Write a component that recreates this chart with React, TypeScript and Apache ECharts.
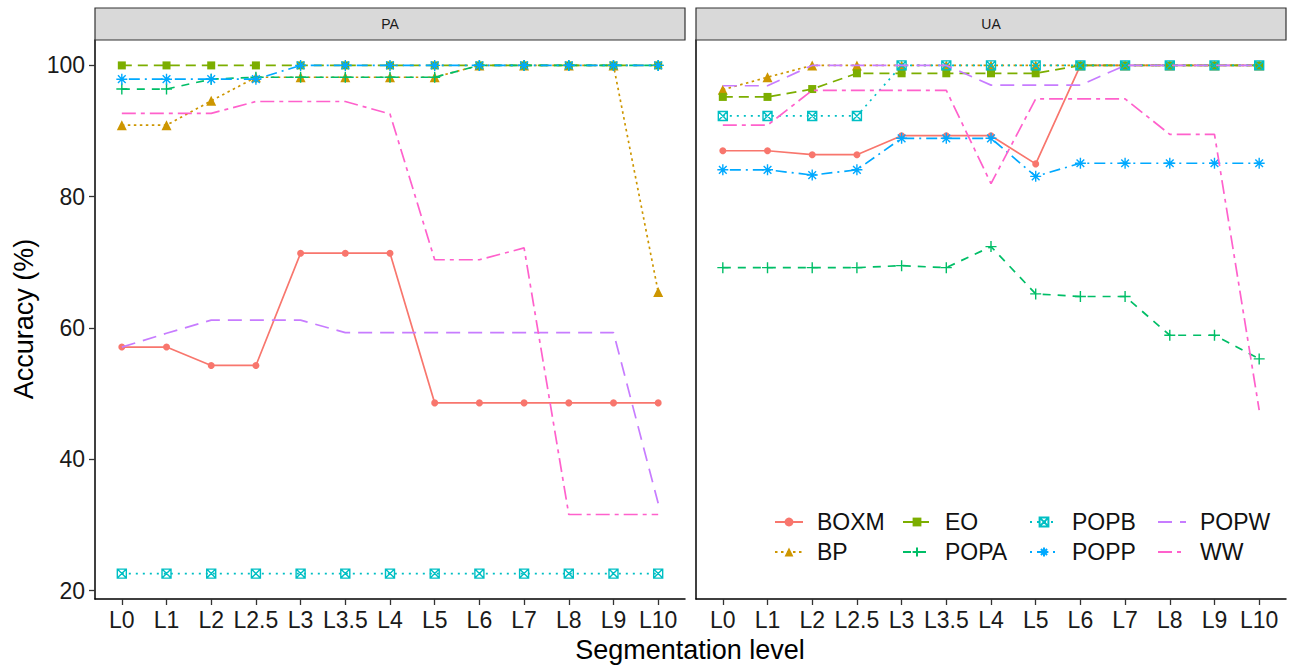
import React, { useEffect, useRef } from "react";
import * as echarts from "echarts";

const categories = ["L0", "L1", "L2", "L2.5", "L3", "L3.5", "L4", "L5", "L6", "L7", "L8", "L9", "L10"];
const panelNames = ["PA", "UA"];
const seriesNames = ["BOXM", "BP", "EO", "POPA", "POPB", "POPP", "POPW", "WW"];
const yTicks = [20, 40, 60, 80, 100];

// PA panel
const paBOXM = [57.1, 57.1, 54.3, 54.3, 71.4, 71.4, 71.4, 48.6, 48.6, 48.6, 48.6, 48.6, 48.6];
const paBP = [90.9, 90.9, 94.6, 98.2, 98.2, 98.2, 98.2, 98.2, 100, 100, 100, 100, 65.5];
const paEO = [100, 100, 100, 100, 100, 100, 100, 100, 100, 100, 100, 100, 100];
const paPOPA = [96.4, 96.4, 97.9, 98.2, 98.2, 98.2, 98.2, 98.2, 100, 100, 100, 100, 100];
const paPOPB = [22.6, 22.6, 22.6, 22.6, 22.6, 22.6, 22.6, 22.6, 22.6, 22.6, 22.6, 22.6, 22.6];
const paPOPP = [97.9, 97.9, 97.9, 97.9, 100, 100, 100, 100, 100, 100, 100, 100, 100];
const paPOPW = [57.1, 59.2, 61.2, 61.2, 61.2, 59.3, 59.3, 59.3, 59.3, 59.3, 59.3, 59.3, 33.3];
const paWW = [92.7, 92.7, 92.7, 94.5, 94.5, 94.5, 92.6, 70.4, 70.4, 72.2, 31.6, 31.6, 31.6];

// UA panel
const uaBOXM = [87.0, 87.0, 86.4, 86.4, 89.3, 89.3, 89.3, 85.0, 100, 100, 100, 100, 100];
const uaBP = [96.3, 98.2, 100, 100, 100, 100, 100, 100, 100, 100, 100, 100, 100];
const uaEO = [95.2, 95.2, 96.4, 98.8, 98.8, 98.8, 98.8, 98.8, 100, 100, 100, 100, 100];
const uaPOPA = [69.2, 69.2, 69.2, 69.2, 69.5, 69.2, 72.4, 65.2, 64.8, 64.8, 58.9, 58.9, 55.3];
const uaPOPB = [92.3, 92.3, 92.3, 92.3, 100, 100, 100, 100, 100, 100, 100, 100, 100];
const uaPOPP = [84.1, 84.1, 83.3, 84.1, 88.9, 88.9, 88.9, 83.1, 85.1, 85.1, 85.1, 85.1, 85.1];
const uaPOPW = [96.9, 96.9, 100, 100, 100, 100, 97.0, 97.0, 97.0, 100, 100, 100, 100];
const uaWW = [90.9, 90.9, 96.2, 96.2, 96.2, 96.2, 82.0, 94.9, 94.9, 94.9, 89.5, 89.5, 47.5];

const panelData = [
  [paBOXM, paBP, paEO, paPOPA, paPOPB, paPOPP, paPOPW, paWW],
  [uaBOXM, uaBP, uaEO, uaPOPA, uaPOPB, uaPOPP, uaPOPW, uaWW],
];

const colors = ["#F8766D", "#CD9600", "#7CAE00", "#00BE67", "#00BFC4", "#00A9FF", "#C77CFF", "#FF61CC"];
const dashes: any[] = ["solid", [2.5, 3.5], [10, 6], [8, 7], [2, 5], [2, 5, 11, 5], [14, 8], [14, 5, 4, 5]];
const symbols = [
  "circle",
  "triangle",
  "rect",
  "path://M5,0L5,10M0,5L10,5",
  "path://M0,0L10,0L10,10L0,10ZM0,0L10,10M10,0L0,10",
  "path://M5,0L5,10M0,5L10,5M1.5,1.5L8.5,8.5M8.5,1.5L1.5,8.5",
  "none",
  "none",
];
const symbolSizes = [7, 10, 8, 11, 9, 11, 0, 0];
const strokedSymbol = [false, false, false, true, true, true, false, false];

const FONT = "'Liberation Sans', Arial, Helvetica, sans-serif";
const grids = [
  { left: 95, top: 40, width: 590, height: 559 },
  { left: 696, top: 40, width: 590, height: 559 },
];
const Y_MIN = 18.73;
const Y_MAX = 103.87;
const legendLefts = [769, 897, 1024, 1152];

export default function App() {
  const ref = useRef<HTMLDivElement>(null);

  useEffect(() => {
    if (!ref.current) return;
    const chart = echarts.init(ref.current, null, { renderer: "svg" });
    const xIdx = categories.map((_, i) => i);

    const series: any[] = [];
    panelData.forEach((arrs, p) => {
      arrs.forEach((vals, s) => {
        const c = colors[s];
        series.push({
          type: "line",
          name: seriesNames[s],
          xAxisIndex: p,
          yAxisIndex: p,
          data: vals.map((v, i) => [i, v]),
          symbol: symbols[s],
          symbolSize: symbolSizes[s],
          showSymbol: symbols[s] !== "none",
          lineStyle: { color: c, width: 1.7, type: dashes[s] },
          itemStyle: strokedSymbol[s]
            ? { color: "rgba(255,255,255,0)", borderColor: c, borderWidth: 1.4 }
            : { color: c, borderWidth: 0 },
          emphasis: { disabled: true },
          silent: true,
          z: 2 + s * 0.01,
        });
      });
    });

    const graphic: any[] = [];
    grids.forEach((g, p) => {
      graphic.push({
        type: "rect",
        shape: { x: g.left, y: 8, width: g.width, height: 32 },
        style: { fill: "#d9d9d9", stroke: "#333", lineWidth: 1.2 },
        z: 10,
      });
      graphic.push({
        type: "text",
        x: g.left + g.width / 2,
        y: 24,
        style: { text: panelNames[p], font: `14px ${FONT}`, fill: "#1a1a1a", textAlign: "center", textVerticalAlign: "middle" },
        z: 11,
      });
    });
    graphic.push({
      type: "text",
      x: 690,
      y: 650,
      style: { text: "Segmentation level", font: `27px ${FONT}`, fill: "#000", textAlign: "center", textVerticalAlign: "middle" },
    });
    graphic.push({
      type: "text",
      x: 24,
      y: 319,
      rotation: Math.PI / 2,
      style: { text: "Accuracy (%)", font: `27px ${FONT}`, fill: "#000", textAlign: "center", textVerticalAlign: "middle" },
    });

    const legends = legendLefts.map((lx, j) => ({
      orient: "vertical",
      left: lx,
      top: 505,
      itemWidth: 28,
      itemHeight: 11,
      itemGap: 6,
      selectedMode: false,
      data: [seriesNames[2 * j], seriesNames[2 * j + 1]].map((n) => {
        const s = seriesNames.indexOf(n);
        return symbols[s] === "none" ? { name: n, itemStyle: { opacity: 0 } } : { name: n };
      }),
      textStyle: { fontSize: 23, fontFamily: FONT, color: "#111", lineHeight: 24, padding: [0, 0, 0, 9] },
    }));

    chart.setOption({
      animation: false,
      backgroundColor: "#ffffff",
      textStyle: { fontFamily: FONT },
      grid: grids,
      xAxis: grids.map((_, i) => ({
        type: "value",
        gridIndex: i,
        min: -0.6,
        max: 12.6,
        axisLine: { show: true, onZero: false, lineStyle: { color: "#000", width: 1.5 } },
        axisTick: { show: true, customValues: xIdx, length: 6, lineStyle: { color: "#333", width: 1.3 } },
        axisLabel: {
          show: true,
          customValues: xIdx,
          formatter: (v: number) => categories[Math.round(v)] ?? "",
          fontSize: 23,
          fontFamily: FONT,
          color: "#1a1a1a",
          margin: 9,
        },
        splitLine: { show: false },
      })),
      yAxis: grids.map((_, i) => ({
        type: "value",
        gridIndex: i,
        min: Y_MIN,
        max: Y_MAX,
        axisLine: { show: true, onZero: false, lineStyle: { color: "#000", width: 1.5 } },
        axisTick: { show: i === 0, customValues: yTicks, length: 6, lineStyle: { color: "#333", width: 1.3 } },
        axisLabel: {
          show: i === 0,
          customValues: yTicks,
          fontSize: 23,
          fontFamily: FONT,
          color: "#1a1a1a",
          margin: 10,
        },
        splitLine: { show: false },
      })),
      legend: legends,
      graphic,
      series,
    });

    return () => chart.dispose();
  }, []);

  return (
    <div
      ref={ref}
      style={{ position: "fixed", left: 0, top: 0, width: 1301, height: 667, background: "#fff" }}
    />
  );
}
